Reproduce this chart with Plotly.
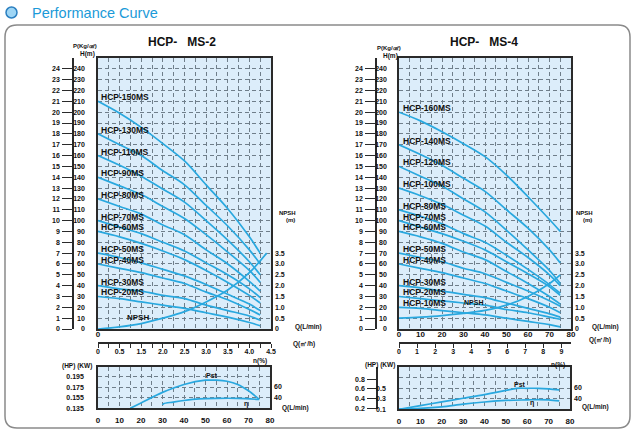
import plotly.graph_objects as go

W, H = 639, 431
def fx(x): return x / W
def fy(y): return 1 - y / H

BLUE = "#29a8df"
GRID = "#6f7e8a"
AX = "#2a2a2a"
BG = "#dcedfa"
FONT = "Liberation Sans, Arial, sans-serif"
DASH = "4px,3px"

# ---------------- data ----------------
Q = [0, 10, 20, 30, 40, 50, 60, 70, 75]

# MS-2 head curves H(m)
ms2_150 = [210, 199, 186, 171, 155, 133, 111, 85, 70]
ms2_130 = [180, 170, 160, 146, 133, 114, 95, 73, 60]
ms2_110 = [160, 151, 141, 129, 117, 100, 82, 62, 50]
ms2_90 = [140, 132, 124, 113, 102, 87, 71, 54, 43]
ms2_80 = [120, 113, 106, 96, 87, 73, 60, 44, 35]
ms2_70 = [100, 94, 88, 80, 72, 61, 50, 37, 29]
ms2_60 = [90, 85, 79, 72, 64, 54, 43, 31, 24]
ms2_50 = [70, 66, 61, 55, 49, 41, 32, 23, 17]
ms2_40 = [60, 56, 52, 47, 42, 34, 27, 18, 13]
ms2_30 = [40, 37, 35, 31, 28, 22, 17, 12, 8]
ms2_20 = [30, 28, 25, 22, 19, 15, 11, 6, 3]
ms2_curves = [("HCP-150MS", ms2_150), ("HCP-130MS", ms2_130), ("HCP-110MS", ms2_110),
              ("HCP-90MS", ms2_90), ("HCP-80MS", ms2_80), ("HCP-70MS", ms2_70),
              ("HCP-60MS", ms2_60), ("HCP-50MS", ms2_50), ("HCP-40MS", ms2_40),
              ("HCP-30MS", ms2_30), ("HCP-20MS", ms2_20)]
ms2_npsh_q = [0, 10, 20, 30, 40, 50, 60, 70, 78]
ms2_npsh = [0, 0.1, 0.25, 0.5, 0.8, 1.25, 1.8, 2.6, 3.5]

# MS-4 head curves H(m)
ms4_160 = [200, 192, 182, 171, 159, 142, 122, 101, 90]
ms4_140 = [170, 161, 151, 139, 127, 110, 93, 73, 61]
ms4_120 = [150, 141, 132, 120, 108, 91, 73, 54, 42]
ms4_100 = [130, 123, 115, 105, 95, 80, 66, 50, 40]
ms4_80 = [110, 104, 97, 88, 80, 68, 55, 41, 33]
ms4_70 = [100, 94, 88, 81, 73, 62, 51, 39, 31]
ms4_60 = [90, 85, 79, 71, 64, 53, 42, 30, 23]
ms4_50 = [70, 66, 62, 56, 51, 43, 35, 26, 21]
ms4_40 = [60, 56, 52, 47, 42, 35, 28, 20, 15]
ms4_30 = [40, 38, 35, 32, 29, 24, 19, 14, 11]
ms4_20 = [30, 28, 26, 24, 22, 18, 15, 11, 9]
ms4_10 = [20, 19, 17, 15, 13, 10, 7, 4, 2]
ms4_curves = [("HCP-160MS", ms4_160), ("HCP-140MS", ms4_140), ("HCP-120MS", ms4_120),
              ("HCP-100MS", ms4_100), ("HCP-80MS", ms4_80), ("HCP-70MS", ms4_70),
              ("HCP-60MS", ms4_60), ("HCP-50MS", ms4_50), ("HCP-40MS", ms4_40),
              ("HCP-30MS", ms4_30), ("HCP-20MS", ms4_20), ("HCP-10MS", ms4_10)]
ms4_npsh_q = [0, 10, 20, 30, 40, 50, 60, 70, 75]
ms4_npsh = [0.5, 0.55, 0.62, 0.72, 0.86, 1.1, 1.5, 2.1, 2.5]

# power / efficiency
ms2_pst_q = [15, 20, 30, 40, 50, 55, 60, 65, 70, 75]
ms2_pst = [0.135, 0.145, 0.165, 0.18, 0.188, 0.188, 0.186, 0.18, 0.168, 0.152]
ms2_eff_q = [30, 30.5, 35, 40, 47, 55, 65, 75]
ms2_eff = [25.6, 28, 31, 34, 37, 38, 38, 36]

ms4_pst_q = [0, 10, 20, 30, 40, 50, 55, 60, 65, 70, 75]
ms4_pst = [0.1, 0.17, 0.24, 0.31, 0.38, 0.46, 0.5, 0.5, 0.5, 0.49, 0.47]
ms4_eff_q = [0, 10, 20, 30, 40, 50, 60, 65, 70, 75]
ms4_eff = [19.5, 21, 24, 29, 33, 36, 37, 37.5, 37, 35]

# tick labels
h_ticks = list(range(0, 250, 10))
p_ticks = list(range(0, 25))
npsh_ticks = [0, 0.5, 1.0, 1.5, 2.0, 2.5, 3.0, 3.5]
npsh_text = ["0", "0.5", "1.0", "1.5", "2.0", "2.5", "3.0", "3.5"]
q_ticks = list(range(0, 85, 5))
ms2_m3h_text = ["0", "0.5", "1.5", "2.0", "2.5", "3.0", "3.5", "4.0", "4.5"]
ms4_m3h_ticks = list(range(0, 10))
ms2_pw_ticks = [0.135, 0.155, 0.175, 0.195]
ms4_kw_ticks = [0.1, 0.3, 0.5, 0.7]
ms4_kw_text = ["0.1", "0.3", "0.5", ""]
ms4_hp_ticks = [0.2, 0.4, 0.6, 0.8]
eff_ticks = [40, 60]

fig = go.Figure()

def curve(x, y, xa, ya, w=1.7):
    fig.add_trace(go.Scatter(x=x, y=y, mode="lines", xaxis=xa, yaxis=ya,
                             line=dict(color=BLUE, width=w, shape="spline", smoothing=0.9),
                             hoverinfo="skip", showlegend=False))

def dummy(xa, ya):
    fig.add_trace(go.Scatter(x=[None], y=[None], mode="lines", xaxis=xa, yaxis=ya,
                             hoverinfo="skip", showlegend=False))

for name, h in ms2_curves:
    curve(Q, h, "x", "y")
curve(ms2_npsh_q, ms2_npsh, "x", "y2")
for name, h in ms4_curves:
    curve(Q, h, "x2", "y3")
curve(ms4_npsh_q, ms4_npsh, "x2", "y4")
curve(ms2_pst_q, ms2_pst, "x3", "y5")
curve(ms2_eff_q, ms2_eff, "x3", "y6")
curve(ms4_pst_q, ms4_pst, "x4", "y7")
curve(ms4_eff_q, ms4_eff, "x4", "y8")
dummy("x", "y9")
dummy("x2", "y10")
dummy("x4", "y11")
dummy("x5", "y")
dummy("x6", "y3")

tf = dict(family=FONT, size=7, color="#111", weight=700)
tf8 = dict(family=FONT, size=8, color="#111", weight=700)
common = dict(automargin=False, fixedrange=True, zeroline=False)
gridstyle = dict(showgrid=True, gridcolor=GRID, griddash=DASH, gridwidth=0.7)

def main_x(dom, labels, anchor):
    return dict(common, **gridstyle, domain=dom, range=[0, 80], tickvals=q_ticks, ticktext=labels,
                anchor=anchor, showline=True, linecolor=AX, linewidth=1.5, mirror=True, ticks="",
                tickfont=tf8, ticklabelstandoff=-3)

def main_y(standoff, anchor):
    return dict(common, **gridstyle, domain=[fy(329), fy(58)], range=[0, 250],
                tickvals=h_ticks + [250], ticktext=[str(v) for v in h_ticks] + [""], anchor=anchor,
                showline=True, linecolor=AX, linewidth=1.5, mirror=True, ticks="",
                tickfont=tf, ticklabelstandoff=standoff)

left_xlab = ["0"] + [""] * 16
right_xlab = [str(v) if v % 10 == 0 else "" for v in q_ticks]

def p_axis(over, pos, rng, vals, ticklen=10):
    return dict(common, overlaying=over, anchor="free", position=pos, side="left", range=rng,
                tickvals=vals, ticktext=[str(v) for v in vals],
                showline=True, linecolor=AX, linewidth=1.5, ticks="outside",
                ticklen=ticklen, tickwidth=1.2, tickcolor=AX, showgrid=False,
                tickfont=tf, ticklabelstandoff=1)

def right_axis(over, anchor, rng, vals, text):
    return dict(common, overlaying=over, anchor=anchor, side="right", range=rng,
                tickvals=vals, ticktext=text, showgrid=False, showline=False, ticks="",
                tickfont=tf, ticklabelstandoff=3)

def bottom_x(dom, anchor):
    return dict(common, **gridstyle, domain=dom, range=[0, 80], tickvals=q_ticks, ticktext=right_xlab,
                anchor=anchor, showline=True, linecolor=AX, linewidth=1.5, mirror=True, ticks="",
                tickfont=tf8, ticklabelstandoff=3)

def m3h_axis(over, rng, vals, text):
    return dict(common, overlaying=over, anchor="free", position=fy(343), side="bottom",
                range=rng, tickvals=vals, ticktext=text,
                showline=True, linecolor=AX, linewidth=1.5, ticks="outside", ticklen=4,
                tickwidth=1.2, tickcolor=AX, showgrid=False, tickfont=tf, ticklabelstandoff=-2)

fig.update_layout(
    template="none",
    width=W, height=H, margin=dict(l=0, r=0, t=0, b=0, pad=0),
    paper_bgcolor="white", plot_bgcolor=BG, showlegend=False,
    font=dict(family=FONT, color="#111"),
    xaxis=main_x([fx(98), fx(271)], left_xlab, "y"),
    yaxis=main_y(10, "x"),
    yaxis2=right_axis("y", "x", [0, 12.5], npsh_ticks, npsh_text),
    xaxis2=main_x([fx(399), fx(571)], right_xlab, "y3"),
    yaxis3=main_y(9, "x2"),
    yaxis4=right_axis("y3", "x2", [0, 12.5], npsh_ticks, npsh_text),
    xaxis3=bottom_x([fx(98), fx(270)], "y5"),
    yaxis5=dict(common, **gridstyle, domain=[fy(408.3), fy(366.7)], range=[0.135, 0.2135],
                anchor="x3", tickvals=ms2_pw_ticks, ticktext=[f"{v:.3f}" for v in ms2_pw_ticks],
                showline=True, linecolor=AX, linewidth=1.5, mirror=True, ticks="",
                tickfont=tf, ticklabelstandoff=11),
    yaxis6=right_axis("y5", "x3", [19.25, 97.7], eff_ticks, [str(v) for v in eff_ticks]),
    xaxis4=bottom_x([fx(399), fx(570)], "y7"),
    yaxis7=dict(common, **gridstyle, domain=[fy(409.3), fy(366.7)], range=[0.1, 0.911],
                anchor="x4", tickvals=ms4_kw_ticks, ticktext=ms4_kw_text,
                showline=True, linecolor=AX, linewidth=1.5, mirror=True, ticks="",
                tickfont=tf, ticklabelstandoff=10),
    yaxis8=right_axis("y7", "x4", [19.25, 99.6], eff_ticks, [str(v) for v in eff_ticks]),
    yaxis9=p_axis("y", fx(73), [0, 25], p_ticks),
    yaxis10=p_axis("y3", fx(376), [0, 25], p_ticks),
    yaxis11=p_axis("y7", fx(377), [0.179, 1.061], ms4_hp_ticks, ticklen=9),
    xaxis5=m3h_axis("x", [0, 80], q_ticks,
                    [ms2_m3h_text[i // 2] if i % 2 == 0 else "" for i in range(17)]),
    xaxis6=m3h_axis("x2", [0, 9.535], ms4_m3h_ticks, [str(v) for v in ms4_m3h_ticks]),
)

ann = []
def txt(x, y, s, size=7, anchor="center", color="#111", weight=700):
    ann.append(dict(x=fx(x), y=fy(y), xref="paper", yref="paper", text=s, showarrow=False,
                    xanchor=anchor, yanchor="middle",
                    font=dict(family=FONT, size=size, color=color, weight=weight)))

txt(30, 12.5, "Performance Curve", size=14.5, anchor="left", color="#1b9ad8", weight=400)
txt(181.5, 42, "HCP-   MS-2", size=12)
txt(484, 42, "HCP-   MS-4", size=12)
for (x0, y0) in [(85, 46), (389, 48)]:
    txt(x0, y0, "P(Kg/㎠)", size=6)
    txt(x0 + 2, y0 + 8, "H(m)", size=6.5)
for xn in [287, 584]:
    txt(xn, 213, "NPSH", size=6)
    txt(xn + 3, 220, "(m)", size=6)
txt(293, 327, "Q(L/min)", size=6.5, anchor="left")
txt(590, 327, "Q(L/min)", size=6.5, anchor="left")
txt(291, 344, "Q(㎥/h)", size=6.5, anchor="left")
txt(587, 340, "Q(㎥/h)", size=6.5, anchor="left")
txt(138, 317, "NPSH", size=8)
txt(473, 302, "NPSH", size=7)
txt(77, 366, "(HP) (KW)", size=6.5)
txt(380, 365, "(HP) (KW)", size=6.5)
txt(260, 361, "n(%)", size=6.5)
txt(558, 365, "n(%)", size=6.5)
txt(280, 408, "Q(L/min)", size=6.5, anchor="left")
txt(580, 407, "Q(L/min)", size=6.5, anchor="left")
txt(211.7, 375.7, "Pst", size=7)
txt(520, 384, "Pst", size=7)
txt(246, 404, "η", size=7)
txt(531.7, 402.7, "η", size=7)

for name, h in ms2_curves:
    ann.append(dict(x=0, y=h[0], xref="x", yref="y", text=name, showarrow=False,
                    xanchor="left", yanchor="middle", xshift=1, yshift=4,
                    font=dict(family=FONT, size=8.5, color="#111", weight=700)))
for name, h in ms4_curves:
    ann.append(dict(x=0, y=h[0], xref="x2", yref="y3", text=name, showarrow=False,
                    xanchor="left", yanchor="middle", xshift=2, yshift=4,
                    font=dict(family=FONT, size=8.5, color="#111", weight=700)))
fig.update_layout(annotations=ann)

def rrect(x0, y0, x1, y1, r):
    P = lambda x, y: f"{fx(x):.5f},{fy(y):.5f}"
    return (f"M {P(x0 + r, y0)} L {P(x1 - r, y0)} Q {P(x1, y0)} {P(x1, y0 + r)} "
            f"L {P(x1, y1 - r)} Q {P(x1, y1)} {P(x1 - r, y1)} L {P(x0 + r, y1)} "
            f"Q {P(x0, y1)} {P(x0, y1 - r)} L {P(x0, y0 + r)} Q {P(x0, y0)} {P(x0 + r, y0)} Z")

fig.add_shape(type="path", xref="paper", yref="paper", path=rrect(5, 25, 630, 428, 12),
              line=dict(color="#8a8a8a", width=1.5))
fig.add_shape(type="circle", xref="paper", yref="paper", x0=fx(6), x1=fx(17), y0=fy(18), y1=fy(7),
              fillcolor="#9fd6f5", line=dict(color="#2b7fc0", width=1.5))

fig.write_html("out.html", config={"displayModeBar": False},
               post_script="document.body.style.margin='0px';document.body.style.overflow='hidden';")
